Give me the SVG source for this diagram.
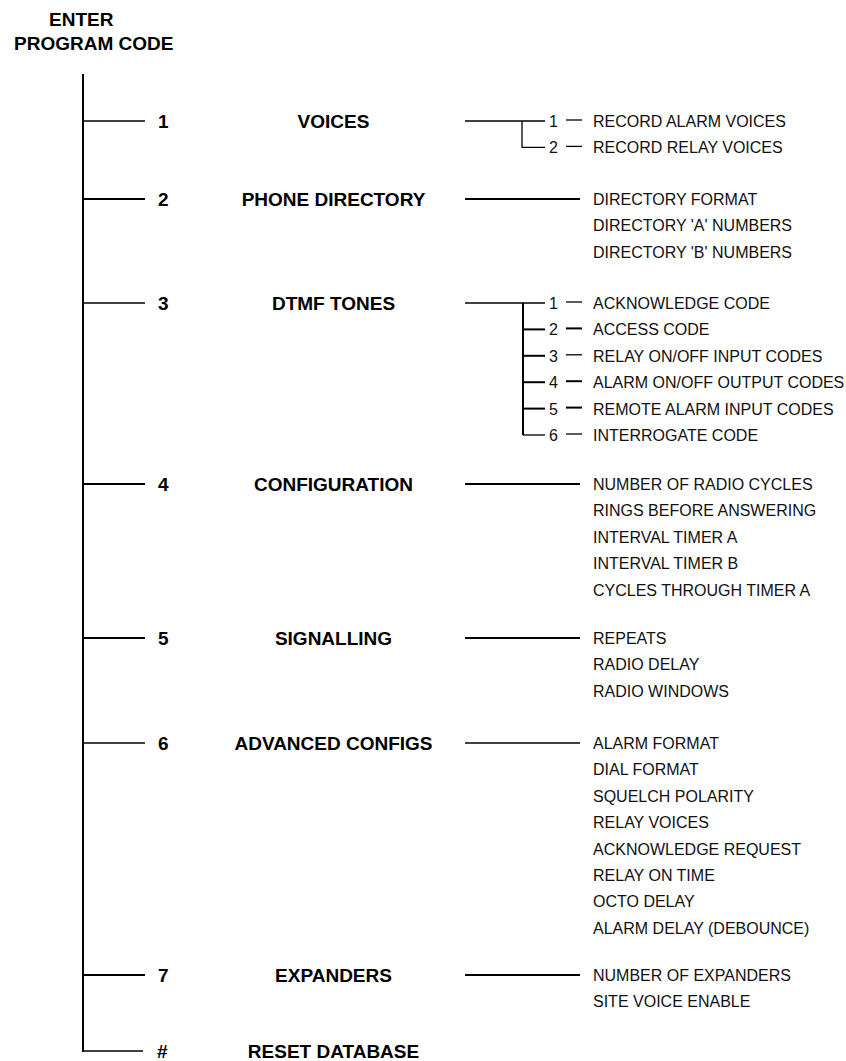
<svg xmlns="http://www.w3.org/2000/svg" width="846" height="1061" viewBox="0 0 846 1061">
<style>
.t{font-family:"Liberation Sans",Arial,sans-serif;font-weight:bold;font-size:19px;fill:#000}
.n{font-family:"Liberation Sans",Arial,sans-serif;font-weight:bold;font-size:19px;fill:#000}
.c{font-family:"Liberation Sans",Arial,sans-serif;font-weight:bold;font-size:19px;fill:#000;text-anchor:middle}
.s{font-family:"Liberation Sans",Arial,sans-serif;font-size:16px;fill:#111}
.l{stroke:#000;fill:none;stroke-width:1.3}
.k{stroke:#000;fill:none;stroke-width:2}
</style>
<rect width="846" height="1061" fill="#fff"/>
<g id="title">
<text class="t" x="49" y="26">ENTER</text>
<text class="t" x="14" y="50">PROGRAM CODE</text>
</g>
<g id="connectors">
<line class="k" x1="83" y1="74" x2="83" y2="1052"/>
<line class="l" x1="83" y1="121" x2="145" y2="121"/>
<line class="k" x1="83" y1="199" x2="145" y2="199"/>
<line class="l" x1="83" y1="303" x2="145" y2="303"/>
<line class="k" x1="83" y1="484" x2="145" y2="484"/>
<line class="k" x1="83" y1="638" x2="145" y2="638"/>
<line class="l" x1="83" y1="743" x2="145" y2="743"/>
<line class="k" x1="83" y1="975" x2="145" y2="975"/>
<line class="l" x1="83" y1="1051" x2="143" y2="1051"/>
<!-- voices -->
<path class="l" d="M465 121H545M522 121V147.4H545"/>
<line class="l" x1="566" y1="120" x2="582" y2="120"/>
<line class="l" x1="566" y1="146.4" x2="582" y2="146.4"/>
<!-- phone -->
<line class="k" x1="465" y1="199" x2="580" y2="199"/>
<!-- dtmf -->
<line class="l" x1="465" y1="303" x2="545" y2="303"/>
<line class="k" x1="523" y1="303" x2="523" y2="435"/>
<line class="k" x1="523" y1="329.4" x2="545" y2="329.4"/>
<line class="k" x1="523" y1="355.8" x2="545" y2="355.8"/>
<line class="k" x1="523" y1="382.2" x2="545" y2="382.2"/>
<line class="k" x1="523" y1="408.6" x2="545" y2="408.6"/>
<line class="l" x1="523" y1="435" x2="545" y2="435"/>
<line class="l" x1="566" y1="302" x2="582" y2="302"/>
<line class="k" x1="566" y1="328.4" x2="582" y2="328.4"/>
<line class="l" x1="566" y1="354.8" x2="582" y2="354.8"/>
<line class="k" x1="566" y1="381.2" x2="582" y2="381.2"/>
<line class="k" x1="566" y1="407.6" x2="582" y2="407.6"/>
<line class="l" x1="566" y1="434" x2="582" y2="434"/>
<!-- others -->
<line class="k" x1="465" y1="484" x2="580" y2="484"/>
<line class="k" x1="465" y1="638" x2="580" y2="638"/>
<line class="l" x1="465" y1="743" x2="580" y2="743"/>
<line class="k" x1="465" y1="975" x2="580" y2="975"/>
</g>
<g id="node-1">
<text class="n" x="158" y="128">1</text>
<text class="c" x="333.5" y="128">VOICES</text>
<text class="s" x="549" y="127">1</text>
<text class="s" x="593" y="127">RECORD ALARM VOICES</text>
<text class="s" x="549" y="153.4">2</text>
<text class="s" x="593" y="153.4">RECORD RELAY VOICES</text>
</g>
<g id="node-2">
<text class="n" x="158" y="206">2</text>
<text class="c" x="333.5" y="206">PHONE DIRECTORY</text>
<text class="s" x="593" y="205">DIRECTORY FORMAT</text>
<text class="s" x="593" y="231.4">DIRECTORY 'A' NUMBERS</text>
<text class="s" x="593" y="257.8">DIRECTORY 'B' NUMBERS</text>
</g>
<g id="node-3">
<text class="n" x="158" y="310">3</text>
<text class="c" x="333.5" y="310">DTMF TONES</text>
<text class="s" x="549" y="309">1</text>
<text class="s" x="593" y="309">ACKNOWLEDGE CODE</text>
<text class="s" x="549" y="335.4">2</text>
<text class="s" x="593" y="335.4">ACCESS CODE</text>
<text class="s" x="549" y="361.8">3</text>
<text class="s" x="593" y="361.8">RELAY ON/OFF INPUT CODES</text>
<text class="s" x="549" y="388.2">4</text>
<text class="s" x="593" y="388.2">ALARM ON/OFF OUTPUT CODES</text>
<text class="s" x="549" y="414.6">5</text>
<text class="s" x="593" y="414.6">REMOTE ALARM INPUT CODES</text>
<text class="s" x="549" y="441">6</text>
<text class="s" x="593" y="441">INTERROGATE CODE</text>
</g>
<g id="node-4">
<text class="n" x="158" y="491">4</text>
<text class="c" x="333.5" y="491">CONFIGURATION</text>
<text class="s" x="593" y="490">NUMBER OF RADIO CYCLES</text>
<text class="s" x="593" y="516.4">RINGS BEFORE ANSWERING</text>
<text class="s" x="593" y="542.8">INTERVAL TIMER A</text>
<text class="s" x="593" y="569.2">INTERVAL TIMER B</text>
<text class="s" x="593" y="595.6">CYCLES THROUGH TIMER A</text>
</g>
<g id="node-5">
<text class="n" x="158" y="645">5</text>
<text class="c" x="333.5" y="645">SIGNALLING</text>
<text class="s" x="593" y="644">REPEATS</text>
<text class="s" x="593" y="670.4">RADIO DELAY</text>
<text class="s" x="593" y="696.8">RADIO WINDOWS</text>
</g>
<g id="node-6">
<text class="n" x="158" y="750">6</text>
<text class="c" x="333.5" y="750">ADVANCED CONFIGS</text>
<text class="s" x="593" y="749">ALARM FORMAT</text>
<text class="s" x="593" y="775.4">DIAL FORMAT</text>
<text class="s" x="593" y="801.8">SQUELCH POLARITY</text>
<text class="s" x="593" y="828.2">RELAY VOICES</text>
<text class="s" x="593" y="854.6">ACKNOWLEDGE REQUEST</text>
<text class="s" x="593" y="881">RELAY ON TIME</text>
<text class="s" x="593" y="907.4">OCTO DELAY</text>
<text class="s" x="593" y="933.8">ALARM DELAY (DEBOUNCE)</text>
</g>
<g id="node-7">
<text class="n" x="158" y="982">7</text>
<text class="c" x="333.5" y="982">EXPANDERS</text>
<text class="s" x="593" y="981">NUMBER OF EXPANDERS</text>
<text class="s" x="593" y="1007.4">SITE VOICE ENABLE</text>
</g>
<g id="node-hash">
<text class="n" x="157" y="1058">#</text>
<text class="c" x="333.5" y="1058">RESET DATABASE</text>
</g>
</svg>
